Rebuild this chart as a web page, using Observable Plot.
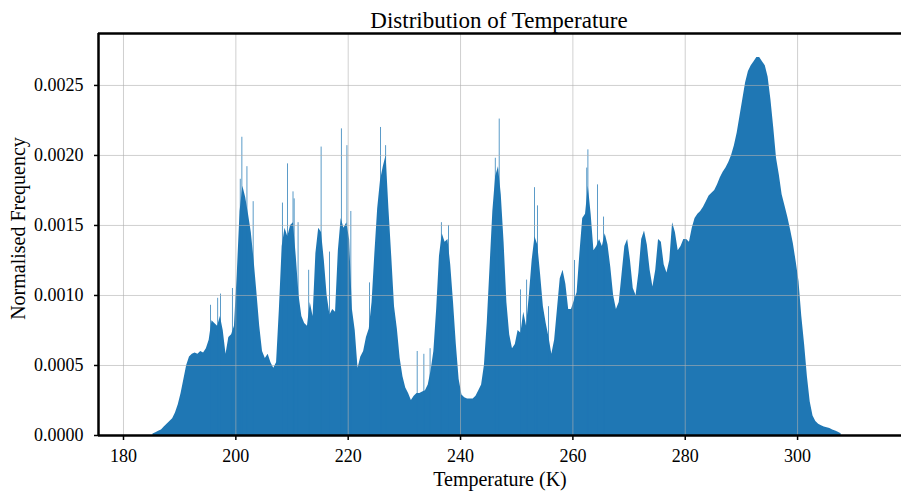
<!DOCTYPE html>
<html>
<head>
<meta charset="utf-8">
<script src="https://cdn.jsdelivr.net/npm/d3@7"></script>
<script src="https://cdn.jsdelivr.net/npm/@observablehq/plot@0.6"></script>
<style>
  html, body { margin: 0; padding: 0; background: #fff; }
  #title {
    box-sizing: border-box; width: 901px; height: 30px; padding: 9px 1px 0 98px;
    text-align: center; font-family: 'Liberation Serif', serif; font-size: 23px; line-height: 23px; color: #000;
  }
  #chart svg { display: block; }
</style>
</head>
<body>
<div id="title"></div>
<div id="chart"></div>
<script>
// ---- data ----
const titleText = "Distribution of Temperature";
const xLabel = "Temperature (K)";
const yLabel = "Normalised Frequency";
const binStart = 185;      // first bin edge (K)
const binWidth = 0.5;      // bin width (K)
const freq = [
  0.00001,0.00002,0.00003,0.00004,0.00006,0.00008,0.0001,0.00012,0.00016,0.00022,
  0.0003,0.0004,0.0005,0.00056,0.00058,0.00059,0.00058,0.0006,0.00059,0.00062,
  0.00068,0.00082,0.0008,0.00078,0.00085,0.00075,0.00058,0.0007,0.00072,0.00078,
  0.00115,0.0016,0.00178,0.0017,0.00158,0.00145,0.00125,0.00102,0.00078,0.0006,
  0.00055,0.00058,0.00052,0.00048,0.00052,0.0009,0.00135,0.00148,0.00142,0.0015,
  0.00152,0.00128,0.001,0.00085,0.0008,0.00078,0.00095,0.00085,0.0013,0.00148,
  0.00145,0.00125,0.001,0.00086,0.0009,0.00088,0.00132,0.00155,0.00148,0.00152,
  0.0014,0.0009,0.00075,0.00048,0.00056,0.0006,0.0007,0.00076,0.00095,0.0013,
  0.00162,0.00182,0.00192,0.002,0.00162,0.00128,0.00092,0.00076,0.00055,0.00042,
  0.00034,0.0003,0.00025,0.00028,0.0003,0.0003,0.00031,0.00032,0.00036,0.00046,
  0.0006,0.0009,0.00128,0.00144,0.00138,0.0014,0.00122,0.00095,0.00065,0.0004,
  0.00029,0.00027,0.00026,0.00026,0.00026,0.00028,0.00032,0.00036,0.0005,0.0008,
  0.0012,0.0016,0.00185,0.00192,0.00172,0.00138,0.00095,0.00072,0.00062,0.00065,
  0.00075,0.00073,0.00088,0.00078,0.001,0.00125,0.00142,0.00136,0.00115,0.00092,
  0.0008,0.0007,0.00058,0.00068,0.0009,0.00112,0.00118,0.00108,0.0009,0.0009,
  0.00096,0.00102,0.0013,0.00155,0.00158,0.00178,0.00158,0.00132,0.00135,0.0014,
  0.00135,0.00144,0.00136,0.0012,0.001,0.0009,0.00095,0.00115,0.00135,0.0014,
  0.00125,0.00105,0.001,0.00116,0.0014,0.00146,0.00136,0.00118,0.00106,0.00118,
  0.0014,0.00138,0.00122,0.00116,0.00125,0.00152,0.00145,0.00132,0.00135,0.0014,
  0.0014,0.00138,0.00148,0.00155,0.00158,0.0016,0.00163,0.00167,0.00171,0.00173,
  0.00175,0.00179,0.00184,0.00188,0.00191,0.00195,0.002,0.00207,0.00216,0.00228,
  0.0024,0.00252,0.0026,0.00264,0.00267,0.0027,0.0027,0.00267,0.00264,0.00256,
  0.0024,0.0022,0.00198,0.00186,0.00172,0.00164,0.00156,0.00147,0.00137,0.00124,
  0.0011,0.00085,0.00065,0.00042,0.00024,0.00014,0.0001,0.00008,0.00007,0.00006,
  0.000055,0.00005,0.00004,0.000032,0.000024,0.000012
];
// narrow single-bin spikes visible above the envelope
const spikeT = [195.5,196.8,197.3,199.4,200.8,201.1,202.0,203.1,208.3,209.2,210.2,210.4,211.1,213.0,215.2,216.7,
  218.8,219.8,220.5,223.8,225.8,226.7,232.3,233.5,234.6,236.6,237.9,246.2,246.9,250.7,251.8,253.2,253.7,255.7,
  260.3,262.5,262.7,264.4,265.5];
const spikeV = [0.00093,0.00098,0.00101,0.00105,0.00183,0.00213,0.00192,0.00167,0.00166,0.00194,0.00174,0.00169,0.00152,0.00118,0.00206,0.00131,
  0.00219,0.00207,0.0016,0.00109,0.0022,0.00207,0.0006,0.00058,0.00062,0.00152,0.0015,0.00198,0.00226,0.00104,0.00111,0.00177,0.00164,0.00092,
  0.00125,0.00191,0.00204,0.00179,0.00156];
const spikeWidth = 0.13;
const xTicks = [180, 200, 220, 240, 260, 280, 300];
const yTicks = [0, 0.0005, 0.001, 0.0015, 0.002, 0.0025];
const xDomain = [175.55, 318.5];
const yDomain = [0, 0.002871];

// ---- build tables ----
const bins = freq.map((v, i) => ({x: binStart + (i + 0.5) * binWidth, v}));
const spikes = spikeT.map((t, i) => ({x1: t, x2: t + spikeWidth, v: spikeV[i]}));

document.getElementById("title").textContent = titleText;

const color = "#1f77b4";
const chart = Plot.plot({
  width: 901,
  height: 465,
  marginTop: 3,
  marginRight: 0,
  marginBottom: 60,
  marginLeft: 98,
  x: {domain: xDomain},
  y: {domain: yDomain},
  style: {fontFamily: "'Liberation Serif', serif", fontSize: "18px", color: "#000", background: "#fff", overflow: "visible"},
  marks: [
    Plot.areaY(bins, {x: "x", y1: 0, y2: "v", fill: color, curve: "linear"}),
    Plot.rect(spikes, {x1: "x1", x2: "x2", y1: 0, y2: "v", fill: color}),
    Plot.gridX(xTicks, {stroke: "#b0b0b0", strokeOpacity: 0.6, strokeWidth: 1}),
    Plot.gridY(yTicks, {stroke: "#b0b0b0", strokeOpacity: 0.6, strokeWidth: 1}),
    Plot.axisX(xTicks, {tickSize: 5, tickPadding: 9, strokeWidth: 1.5, fontSize: 18, label: null}),
    Plot.axisY(yTicks, {tickSize: 4, tickPadding: 11, strokeWidth: 1.5, fontSize: 18, tickFormat: d3.format(".4f"), label: null}),
    Plot.ruleY([yDomain[0]], {stroke: "#000", strokeWidth: 2.5}),
    Plot.ruleY([yDomain[1]], {stroke: "#000", strokeWidth: 2.5}),
    Plot.ruleX([xDomain[0]], {stroke: "#000", strokeWidth: 2.5}),
    Plot.text([xLabel], {text: d => d, frameAnchor: "bottom", lineAnchor: "middle", dy: 44, fontSize: 20}),
    Plot.text([yLabel], {text: d => d, frameAnchor: "left", textAnchor: "middle", lineAnchor: "middle", dx: -80, dy: -6, rotate: -90, fontSize: 20})
  ]
});
document.getElementById("chart").appendChild(chart);
</script>
</body>
</html>
